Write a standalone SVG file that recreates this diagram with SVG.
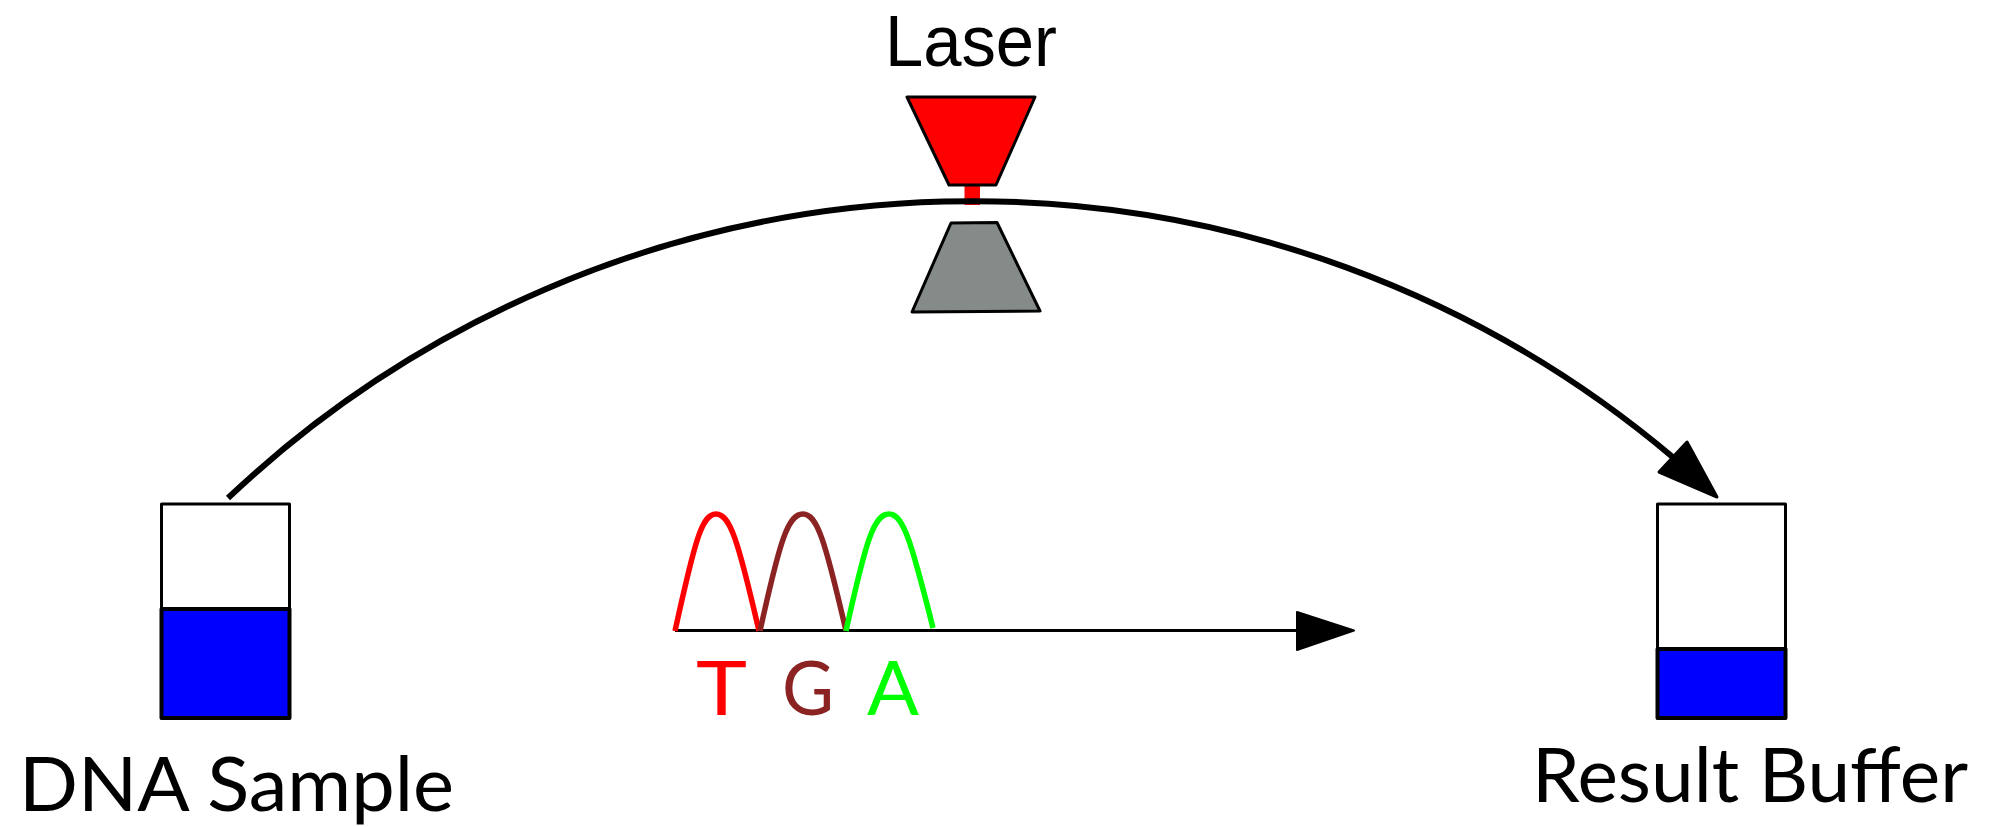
<svg xmlns="http://www.w3.org/2000/svg" width="1991" height="827" viewBox="0 0 1991 827">
<style>
text{font-family:"Lato","Liberation Sans",sans-serif;font-size:75px;fill:#000}
text.tight{font-family:"Liberation Sans",sans-serif;font-size:73px}
.sh{stroke:#000;stroke-width:3;stroke-linejoin:round}
.fl{stroke:#000;stroke-width:4;stroke-linejoin:round}
.peak{fill:none;stroke-width:5.500}
</style>
<rect width="1991" height="827" fill="#fff"/>
<g id="laser">
<rect x="964.500" y="185" width="15.500" height="20" fill="#f00"/>
<polygon class="sh" points="907,97 1035,97 996,185 949,185" fill="#f00"/>
<text class="tight" x="885" y="66" textLength="172" lengthAdjust="spacingAndGlyphs">Laser</text>
</g>
<g id="detector">
<polygon class="sh" points="951,223 997,222.500 1040,311 912,312" fill="#848b89"/>
</g>
<g id="dna-sample">
<rect class="sh" x="161.500" y="504" width="128" height="214" fill="#fff"/>
<rect class="fl" x="161.500" y="609" width="128" height="109" fill="#00f"/>
<text x="19" y="811" textLength="435" lengthAdjust="spacingAndGlyphs">DNA Sample</text>
</g>
<g id="result-buffer">
<rect class="sh" x="1657.500" y="504" width="128" height="214" fill="#fff"/>
<rect class="fl" x="1657.500" y="649" width="128" height="69" fill="#00f"/>
<text x="1532" y="802" textLength="436" lengthAdjust="spacingAndGlyphs">Result Buffer</text>
</g>
<g id="connectors">
<path d="M228,498 A1084,1084 0 0 1 1675,459" fill="none" stroke="#000" stroke-width="6"/>
<polygon points="1717,497 1687,442 1659,472" fill="#000" stroke="#000" stroke-width="3" stroke-linejoin="round"/>
<line x1="675" y1="630.500" x2="1298" y2="630.500" stroke="#000" stroke-width="3"/>
<polygon points="1354,630.500 1297,612 1297,650" fill="#000" stroke="#000" stroke-width="2" stroke-linejoin="round"/>
</g>
<g id="sequence">
<path class="peak" stroke="#f00" d="M675,631 C695,540 702,514 716,514 C730,514 738,540 759,631"/>
<path class="peak" stroke="#8b2323" d="M760,631 C780,540 788,514 803,514 C817,514 825,540 846,631"/>
<path class="peak" stroke="#0f0" d="M846,631 C866,540 874,514 889,514 C903,514 911,540 933,628"/>
<text x="696" y="715" textLength="51" lengthAdjust="spacingAndGlyphs" style="fill:#f00">T</text>
<text x="782" y="715" textLength="52" lengthAdjust="spacingAndGlyphs" style="fill:#8b2323">G</text>
<text x="867" y="715" textLength="52" lengthAdjust="spacingAndGlyphs" style="fill:#0f0">A</text>
</g>
</svg>
